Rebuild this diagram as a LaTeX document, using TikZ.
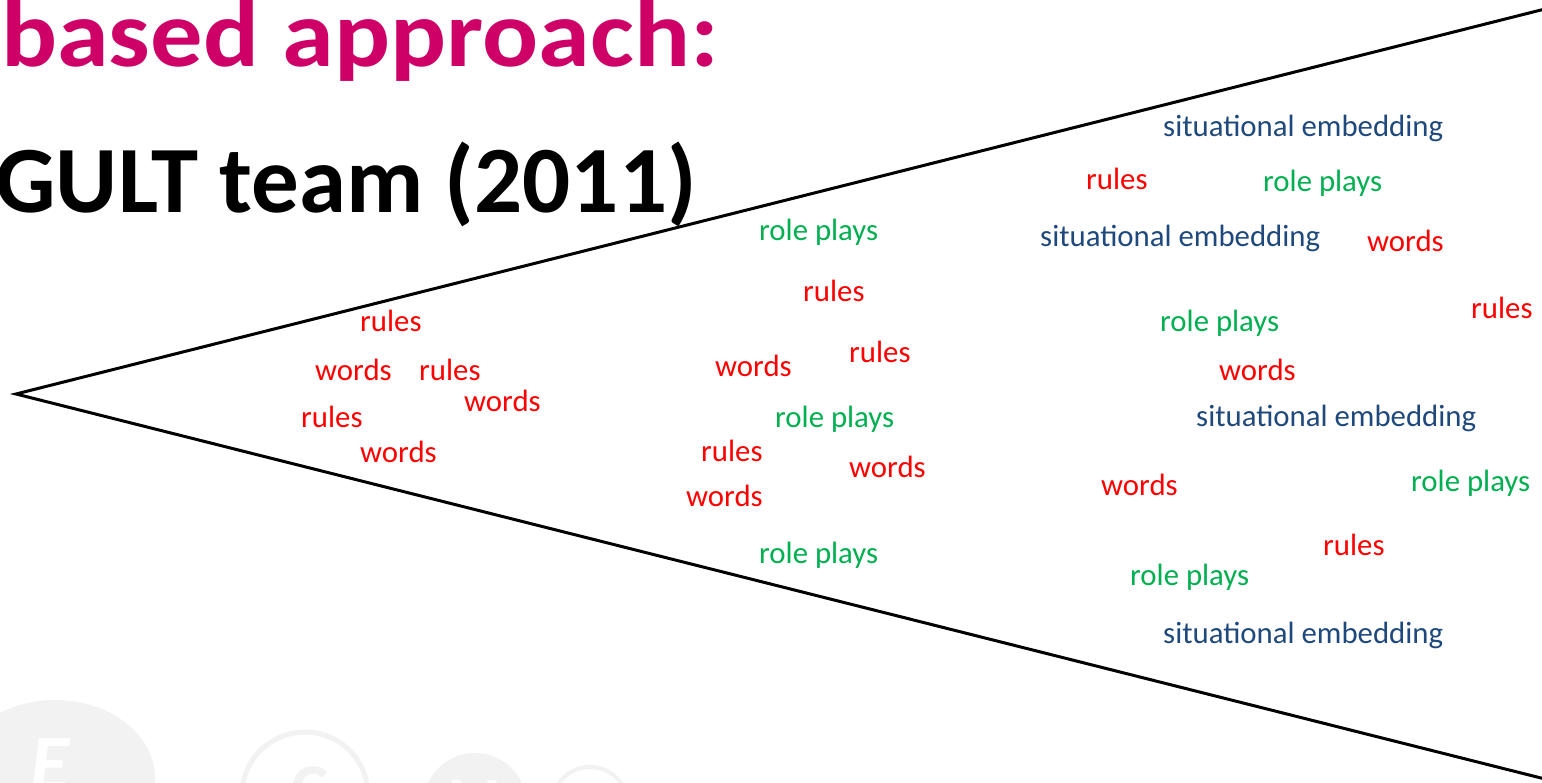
\documentclass[tikz,border=0pt]{standalone}
\usepackage{fontspec}
\setmainfont{Carlito}
\definecolor{magentat}{RGB}{206,0,104}
\definecolor{wred}{RGB}{255,0,0}
\definecolor{wgreen}{RGB}{0,176,80}
\definecolor{wblue}{RGB}{31,73,125}
\definecolor{wmark}{RGB}{242,242,242}
\begin{document}
\begin{tikzpicture}[x=1pt,y=-1pt,
  wd/.style={anchor=base west,inner sep=0pt,font=\fontsize{30.8}{36}\selectfont},
  rw/.style={wd,text=wred},
  gr/.style={wd,text=wgreen},
  bl/.style={wd,text=wblue},
  ttl/.style={anchor=base east,inner sep=0pt,font=\fontsize{95}{110}\selectfont\bfseries},
  funnel/.style={draw=black,line width=3pt,line cap=round}]
\useasboundingbox (0,0) rectangle (1542,783);
\fill[white] (0,0) rectangle (1542,783);
% faint watermark
\fill[wmark] (55,778) ellipse [x radius=100,y radius=78];
\node[text=white,font=\fontsize{80}{80}\selectfont\bfseries\itshape] (wmE) at (50,765) {E};
\draw[wmark,line width=5pt] (305,795) circle [radius=63];
\node[text=wmark,font=\fontsize{70}{70}\selectfont\bfseries] (wmC) at (310,790) {C};
\fill[wmark] (475,805) circle [radius=52];
\node[text=white,font=\fontsize{60}{60}\selectfont\bfseries] (wmM) at (475,800) {M};
\draw[wmark,line width=4pt] (590,805) circle [radius=38];
% titles
\node[ttl,text=magentat] (t1) at (719,67) {\scalebox{1.1}[1]{based approach:}};
\node[ttl,text=black] (t2) at (697,213) {GULT team (2011)};
% funnel
\coordinate (apex) at (16,394);
\coordinate (topend) at (1545,9);
\coordinate (botend) at (1545,779);
\draw[funnel] (topend) -- (apex) -- (botend);
% left group
\node[rw] (l1) at (360,332) {rules};
\node[rw] (l2) at (315,381) {words};
\node[rw] (l3) at (419,381) {rules};
\node[rw] (l4) at (464,411) {words};
\node[rw] (l5) at (301,427) {rules};
\node[rw] (l6) at (360,462) {words};
% middle group
\node[gr] (m1) at (759,241) {role plays};
\node[rw] (m2) at (803,302) {rules};
\node[rw] (m3) at (849,363) {rules};
\node[rw] (m4) at (715,377) {words};
\node[gr] (m5) at (775,427) {role plays};
\node[rw] (m6) at (701,461) {rules};
\node[rw] (m7) at (849,477) {words};
\node[rw] (m8) at (686,506) {words};
\node[gr] (m9) at (759,563) {role plays};
% right group
\node[bl] (r1) at (1163,137) {situational embedding};
\node[rw] (r2) at (1086,190) {rules};
\node[gr] (r3) at (1263,192) {role plays};
\node[bl] (r4) at (1040,247) {situational embedding};
\node[rw] (r5) at (1367,252) {words};
\node[rw] (r6) at (1471,319) {rules};
\node[gr] (r7) at (1160,332) {role plays};
\node[rw] (r8) at (1219,381) {words};
\node[bl] (r9) at (1196,426) {situational embedding};
\node[rw] (r10) at (1101,495) {words};
\node[gr] (r11) at (1411,491) {role plays};
\node[rw] (r12) at (1323,555) {rules};
\node[gr] (r13) at (1130,585) {role plays};
\node[bl] (r14) at (1163,643) {situational embedding};
\end{tikzpicture}
\end{document}
